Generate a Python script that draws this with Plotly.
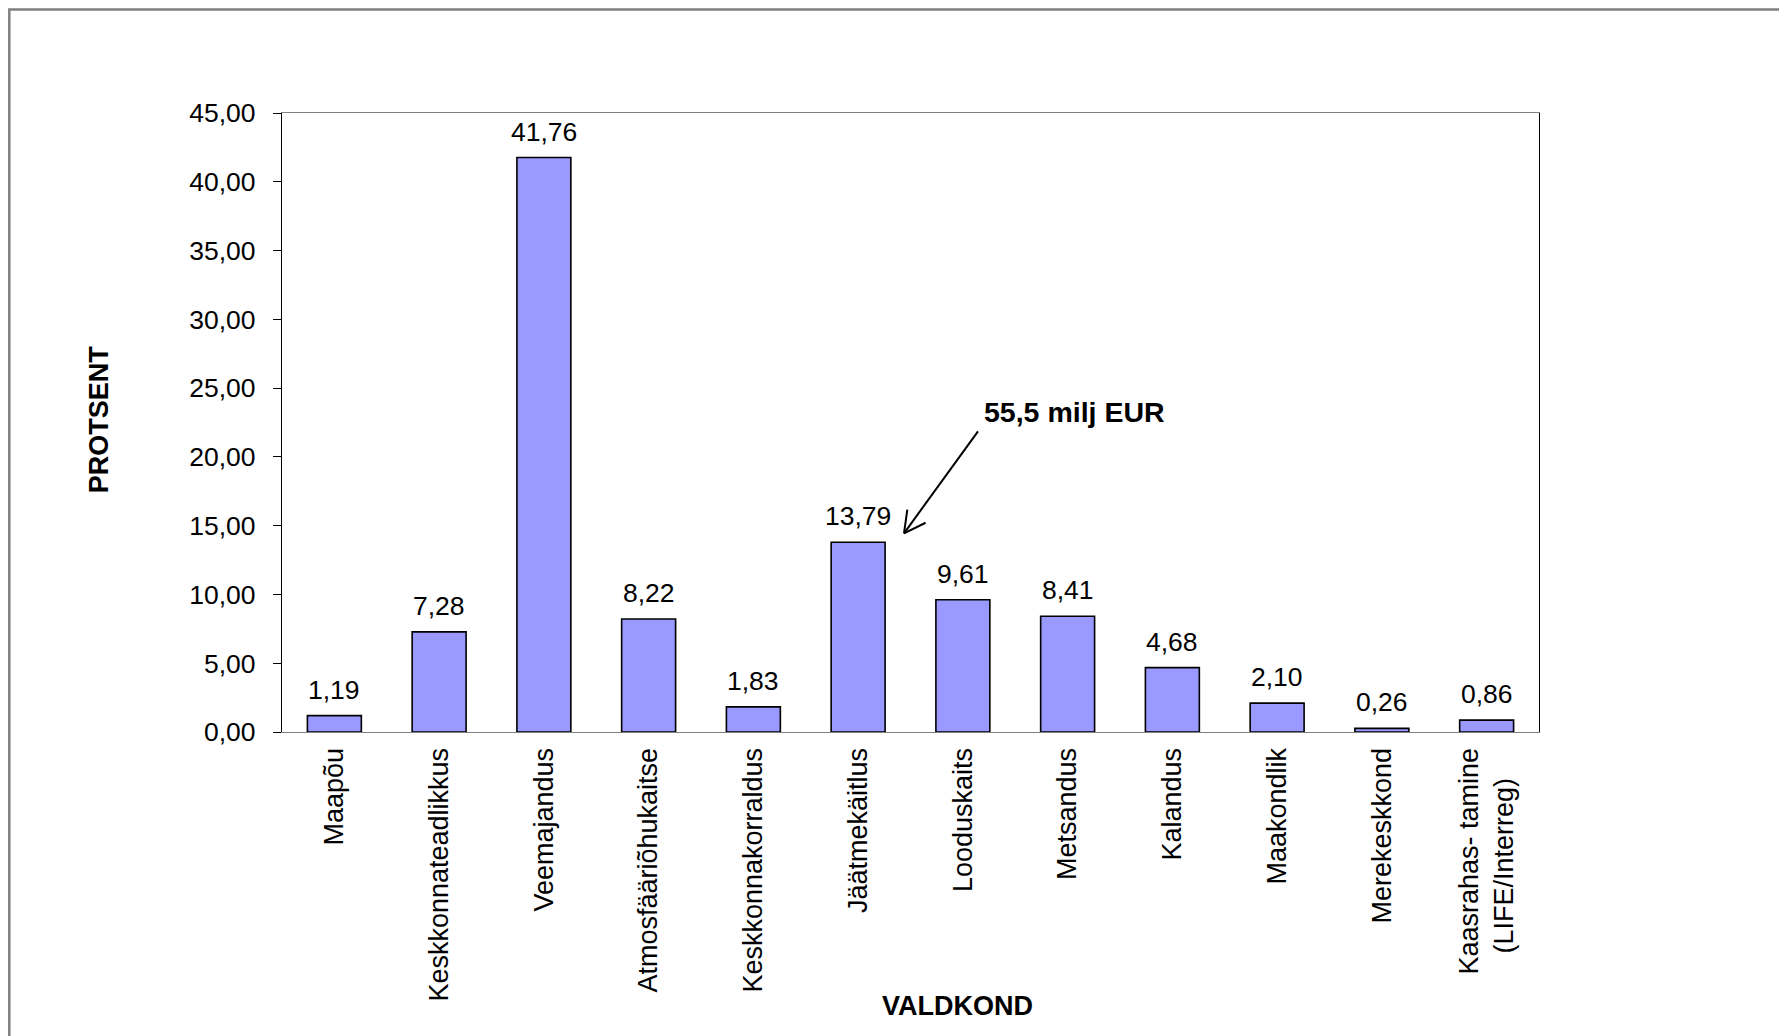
import math
import plotly.graph_objects as go

categories = ["Maapõu", "Keskkonnateadlikkus", "Veemajandus", "Atmosfääriõhukaitse",
              "Keskkonnakorraldus", "Jäätmekäitlus", "Looduskaits", "Metsandus",
              "Kalandus", "Maakondlik", "Merekeskkond", "Kaasrahas- tamine (LIFE/Interreg)"]
tick_labels = ["Maapõu", "Keskkonnateadlikkus", "Veemajandus", "Atmosfääriõhukaitse",
               "Keskkonnakorraldus", "Jäätmekäitlus", "Looduskaits", "Metsandus",
               "Kalandus", "Maakondlik", "Merekeskkond",
               "Kaasrahas- tamine<br>(LIFE/Interreg)\u00a0\u00a0\u00a0\u00a0"]
values = [1.19, 7.28, 41.76, 8.22, 1.83, 13.79, 9.61, 8.41, 4.68, 2.10, 0.26, 0.86]
y_ticks = [0, 5, 10, 15, 20, 25, 30, 35, 40, 45]
y_title = "PROTSENT"
x_title = "VALDKOND"
callout = "55,5 milj EUR"

# page coordinates (the page body has an 8px margin)
OFF = 8
PAGE_W, PAGE_H = 1787, 1036
W, H = PAGE_W - OFF, PAGE_H - OFF
L, R, T, B = 282, 1539, 112.7, 731.7

def px(x):
    return (x - L) / (R - L)

def py(y):
    return (B - y) / (B - T)

FONT = "Liberation Sans, Arial, sans-serif"

fig = go.Figure()
fig.add_trace(go.Bar(
    x=categories, y=values,
    marker=dict(color="#9999FF", line=dict(color="black", width=1.6)),
    width=0.515,
    hoverinfo="skip",
))

# value labels
for c, v in zip(categories, values):
    fig.add_annotation(x=c, y=v, xref="x", yref="y",
                       text=f"{v:.2f}".replace(".", ","),
                       showarrow=False, xanchor="center", yanchor="bottom", yshift=9,
                       font=dict(family=FONT, size=26.5, color="black"))

# axis titles
fig.add_annotation(x=px(99), y=py(419), xref="paper", yref="paper", text=f"<b>{y_title}</b>",
                   textangle=-90, showarrow=False, xanchor="center", yanchor="middle",
                   font=dict(family=FONT, size=27, color="black"))
fig.add_annotation(x=px(957), y=py(1006), xref="paper", yref="paper", text=f"<b>{x_title}</b>",
                   showarrow=False, xanchor="center", yanchor="middle",
                   font=dict(family=FONT, size=27, color="black"))

# callout text
fig.add_annotation(x=px(1074), y=py(412), xref="paper", yref="paper", text=f"<b>{callout}</b>",
                   showarrow=False, xanchor="center", yanchor="middle",
                   font=dict(family=FONT, size=28.5, color="black"))

# arrow (line + open V head)
tail = (978, 431)
tip = (904, 533)
dx, dy = tip[0] - tail[0], tip[1] - tail[1]
ln = math.hypot(dx, dy)
ux, uy = dx / ln, dy / ln
hl = 24
ang = math.radians(28)
shapes = [dict(type="line", xref="paper", yref="paper",
               x0=px(tail[0]), y0=py(tail[1]), x1=px(tip[0]), y1=py(tip[1]),
               line=dict(color="black", width=2))]
for s in (1, -1):
    a = s * ang
    rx = -(ux * math.cos(a) - uy * math.sin(a))
    ry = -(ux * math.sin(a) + uy * math.cos(a))
    shapes.append(dict(type="line", xref="paper", yref="paper",
                       x0=px(tip[0]), y0=py(tip[1]),
                       x1=px(tip[0] + hl * rx), y1=py(tip[1] + hl * ry),
                       line=dict(color="black", width=2)))

# outer frame (bottom edge lies below the visible area)
shapes.append(dict(type="rect", xref="paper", yref="paper",
                   x0=px(9.3), y0=py(9.3), x1=px(1783), y1=py(1100),
                   line=dict(color="#808080", width=2.5), fillcolor="rgba(0,0,0,0)", layer="below"))

fig.update_layout(
    width=W, height=H,
    margin=dict(l=L - OFF, r=W - (R - OFF), t=T - OFF, b=H - (B - OFF), autoexpand=False),
    paper_bgcolor="white", plot_bgcolor="white",
    showlegend=False,
    separators=",.",
    font=dict(family=FONT, size=26, color="black"),
    shapes=shapes,
)
fig.update_xaxes(
    showline=True, linecolor="#808080", linewidth=1.3, mirror=True,
    ticks="", tickangle=-90, tickfont=dict(family=FONT, size=27, color="black"),
    tickmode="array", tickvals=categories, ticktext=tick_labels,
    ticklabelstandoff=4, showgrid=False, range=[-0.5, len(categories) - 0.5],
)
fig.update_yaxes(
    range=[0, 45], tickvals=y_ticks, tickformat=".2f",
    showline=True, linecolor="black", linewidth=1.3, mirror=True,
    ticks="outside", ticklen=8, tickcolor="black", tickwidth=1.3,
    tickfont=dict(family=FONT, size=26.5, color="black"),
    ticklabelstandoff=12, showgrid=False, zeroline=False,
)

fig.write_html("out.html")
